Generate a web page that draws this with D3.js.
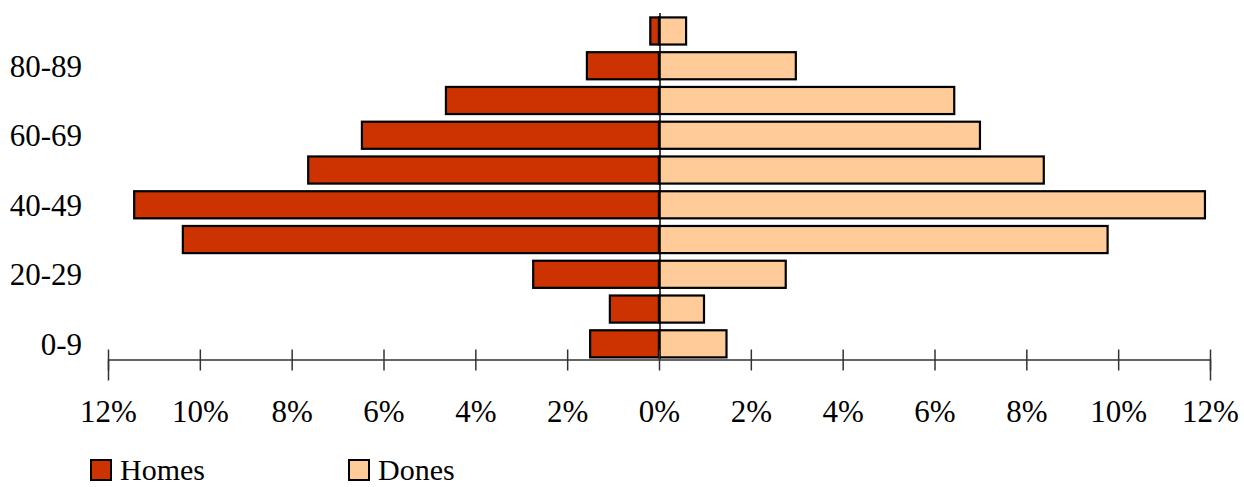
<!DOCTYPE html>
<html>
<head>
<meta charset="utf-8">
<script src="https://cdn.jsdelivr.net/npm/d3@7"></script>
<style>
  html, body { margin: 0; padding: 0; background: #fff; }
  svg { display: block; }
  text { font-family: "Liberation Serif", "Times New Roman", serif; fill: #000; }
</style>
</head>
<body>
<svg id="chart" width="1244" height="487"></svg>
<script>
// ---- data ----
const ageGroups = ["0-9", "10-19", "20-29", "30-39", "40-49", "50-59", "60-69", "70-79", "80-89", "90-99"];
const ageLabels = ["0-9", "", "20-29", "", "40-49", "", "60-69", "", "80-89", ""];
const homes = [1.50, 1.07, 2.74, 10.37, 11.43, 7.64, 6.47, 4.64, 1.57, 0.19];
const dones = [1.47, 0.98, 2.76, 9.77, 11.89, 8.38, 6.99, 6.43, 2.98, 0.59];
const tickValues = [-12, -10, -8, -6, -4, -2, 0, 2, 4, 6, 8, 10, 12];
const seriesNames = ["Homes", "Dones"];
const seriesColors = ["#CC3300", "#FFCC99"];

// ---- layout ----
const svg = d3.select("#chart");
const axisY = 359.5;

const x = d3.scaleLinear().domain([-12, 12]).range([108, 1210]);
const y = d3.scaleBand()
  .domain(ageGroups.slice().reverse())
  .range([13.6, 361.2])
  .paddingInner(0.22)
  .paddingOuter(0.11);

// bars
const rows = ageGroups.map((g, i) => ({ g, h: homes[i], d: dones[i] }));

svg.append("g").selectAll("rect.h")
  .data(rows).join("rect")
  .attr("x", d => x(-d.h))
  .attr("y", d => y(d.g))
  .attr("width", d => x(0) - x(-d.h))
  .attr("height", y.bandwidth())
  .attr("fill", seriesColors[0])
  .attr("stroke", "#000")
  .attr("stroke-width", 2.2);

svg.append("g").selectAll("rect.d")
  .data(rows).join("rect")
  .attr("x", x(0))
  .attr("y", d => y(d.g))
  .attr("width", d => x(d.d) - x(0))
  .attr("height", y.bandwidth())
  .attr("fill", seriesColors[1])
  .attr("stroke", "#000")
  .attr("stroke-width", 2.2);

// vertical centre line
svg.append("line")
  .attr("x1", x(0) + 1).attr("x2", x(0) + 1)
  .attr("y1", 13).attr("y2", axisY)
  .attr("stroke", "#000").attr("stroke-width", 1.5);

// x axis
const xAxis = d3.axisBottom(x)
  .tickValues(tickValues)
  .tickSizeOuter(0)
  .tickSize(21)
  .tickFormat(d => Math.abs(d) + "%");

const gx = svg.append("g")
  .attr("transform", `translate(0,${axisY})`)
  .call(xAxis);
gx.select(".domain").attr("stroke", "#333").attr("stroke-width", 1.5);
gx.selectAll(".tick line")
  .attr("y1", -10).attr("y2", 11)
  .attr("stroke", "#333").attr("stroke-width", 1.5);
gx.selectAll(".tick text")
  .attr("y", 62).attr("dy", 0)
  .attr("font-family", "'Liberation Serif', 'Times New Roman', serif")
  .attr("font-size", 31)
  .attr("fill", "#000");

// y labels
svg.append("g").selectAll("text")
  .data(ageGroups.map((g, i) => ({ g, label: ageLabels[i] })).filter(d => d.label))
  .join("text")
  .attr("x", 82)
  .attr("y", d => y(d.g) + y.bandwidth() / 2)
  .attr("dy", "0.35em")
  .attr("text-anchor", "end")
  .attr("font-size", 31)
  .text(d => d.label);

// legend
const legendX = [90, 348];
const lg = svg.append("g").selectAll("g")
  .data(seriesNames.map((n, i) => ({ n, c: seriesColors[i], x: legendX[i] })))
  .join("g")
  .attr("transform", d => `translate(${d.x},459)`);
lg.append("rect")
  .attr("x", 1).attr("y", 1)
  .attr("width", 20).attr("height", 20)
  .attr("fill", d => d.c)
  .attr("stroke", "#000").attr("stroke-width", 2);
lg.append("text")
  .attr("x", 30).attr("y", 21)
  .attr("font-size", 30)
  .text(d => d.n);
</script>
</body>
</html>
